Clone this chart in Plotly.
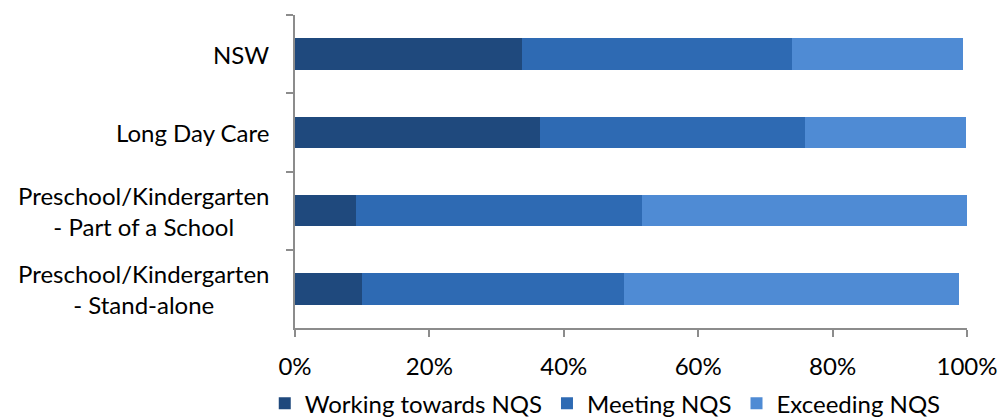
import plotly.graph_objects as go

# Service types (top to bottom) and share of services in each rating band (%)
categories = [
    "NSW",
    "Long Day Care",
    "Preschool/Kindergarten<br>- Part of a School",
    "Preschool/Kindergarten<br>- Stand-alone",
]
working_towards = [33.8, 36.4, 9.1, 9.9]
meeting = [40.2, 39.5, 42.5, 39.1]
exceeding = [25.4, 24.0, 48.4, 49.8]

series_names = ["Working towards NQS", "Meeting NQS", "Exceeding NQS"]
series_values = [working_towards, meeting, exceeding]
series_colors = ["#1F497D", "#2E6AB3", "#4F8BD4"]

x_tick_vals = [0, 20, 40, 60, 80, 100]
x_tick_text = ["0%", "20%", "40%", "60%", "80%", "100%"]

FONT = "Lato"
FONT_SIZE = 24

fig = go.Figure()
for name, vals, color in zip(series_names, series_values, series_colors):
    fig.add_trace(
        go.Bar(
            name=name,
            y=categories,
            x=vals,
            orientation="h",
            marker=dict(color=color, line=dict(width=0)),
        )
    )

# Category labels drawn as centred multi-line text beside the axis
for cat in categories:
    fig.add_annotation(
        x=0, xref="paper", y=cat, yref="y",
        text=cat, showarrow=False,
        xanchor="right", yanchor="middle", align="center",
        xshift=-24,
        font=dict(family=FONT, size=FONT_SIZE, color="#000000"),
    )

fig.update_layout(
    barmode="stack",
    bargap=0.6,
    width=999,
    height=418,
    margin=dict(l=295, r=32, t=15, b=90, autoexpand=False),
    paper_bgcolor="white",
    plot_bgcolor="white",
    font=dict(family=FONT, size=FONT_SIZE, color="#000000"),
    showlegend=True,
    legend=dict(
        orientation="h",
        x=-0.045, xanchor="left",
        y=-0.17, yanchor="top",
        font=dict(family=FONT, size=FONT_SIZE),
        traceorder="normal",
        itemwidth=30,
    ),
    xaxis=dict(
        range=[0, 100],
        tickvals=x_tick_vals,
        ticktext=x_tick_text,
        showgrid=False,
        zeroline=False,
        showline=True,
        linecolor="#8C8C8C",
        linewidth=2,
        ticks="outside",
        ticklen=7,
        tickwidth=2,
        tickcolor="#8C8C8C",
        ticklabelstandoff=9,
        tickfont=dict(family=FONT, size=FONT_SIZE),
    ),
    yaxis=dict(
        categoryorder="array",
        categoryarray=categories,
        autorange="reversed",
        showgrid=False,
        zeroline=False,
        showline=True,
        linecolor="#8C8C8C",
        linewidth=2,
        ticks="outside",
        tickson="boundaries",
        ticklen=7,
        tickwidth=2,
        tickcolor="#8C8C8C",
        showticklabels=False,
    ),
)

fig.write_html("out.html")
